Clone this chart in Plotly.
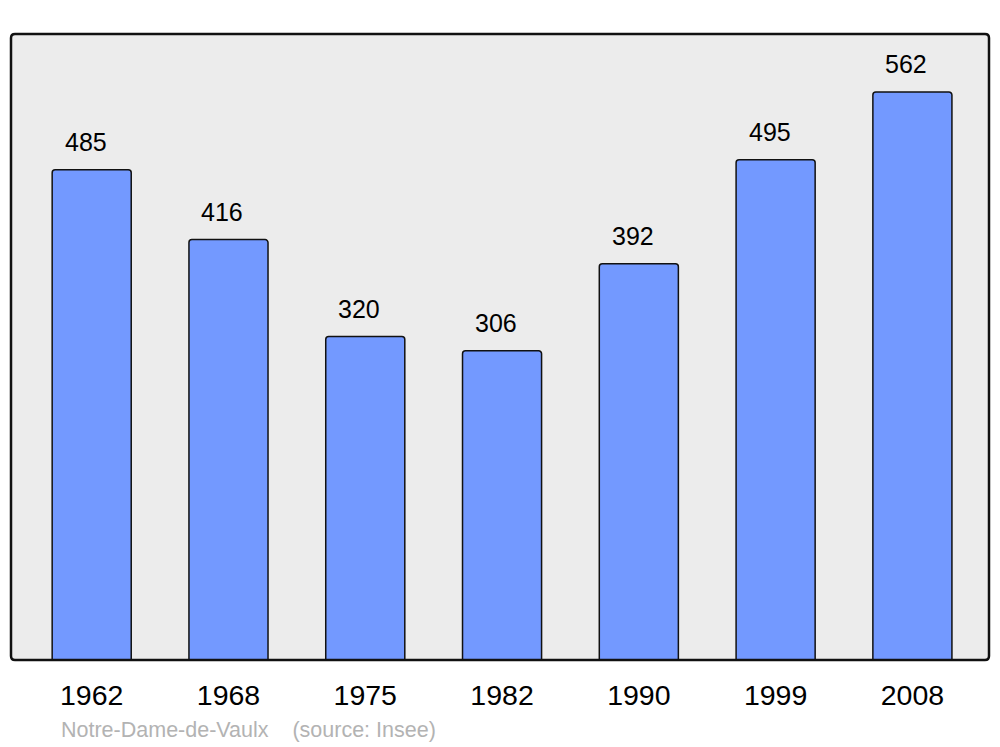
import plotly.graph_objects as go

years = ["1962", "1968", "1975", "1982", "1990", "1999", "2008"]
population = [485, 416, 320, 306, 392, 495, 562]
commune = "Notre-Dame-de-Vaulx"
source = "(source: Insee)"

FONT = "Liberation Sans, Arial, sans-serif"

fig = go.Figure()
fig.add_trace(go.Bar(
    x=list(range(len(years))), y=population, width=0.578,
    marker=dict(color="#7399ff", line=dict(color="#111111", width=1.5), cornerradius=3),
    hoverinfo="skip",
))
for i, v in enumerate(population):
    fig.add_annotation(x=i, y=v, text=str(v), showarrow=False, xshift=-6, yshift=28,
                       yanchor="middle", font=dict(family=FONT, size=25, color="#000"))

fig.add_annotation(xref="paper", yref="paper", x=0.0495, y=-0.112, xanchor="left", yanchor="middle",
                   text=commune + "&nbsp;&nbsp;&nbsp;&nbsp;" + source, showarrow=False,
                   font=dict(family=FONT, size=21.5, color="#b3b3b3"))

# rounded plot border
rx, ry = 4 / 978, 4 / 626
path = (f"M {rx},0 L {1-rx},0 Q 1,0 1,{ry} L 1,{1-ry} Q 1,1 {1-rx},1 "
        f"L {rx},1 Q 0,1 0,{1-ry} L 0,{ry} Q 0,0 {rx},0 Z")
fig.add_shape(type="path", xref="paper", yref="paper", path=path,
              line=dict(color="#111111", width=2.5), layer="above")

fig.update_layout(
    width=1000, height=747,
    margin=dict(l=11, r=11, t=34, b=87),
    paper_bgcolor="white", plot_bgcolor="#ececec",
    showlegend=False,
    xaxis=dict(range=[-0.59, 6.56], showgrid=False, zeroline=False,
               tickmode="array", tickvals=list(range(len(years))), ticktext=years,
               ticks="outside", ticklen=10, tickcolor="rgba(0,0,0,0)",
               tickfont=dict(family=FONT, size=28.5, color="#000")),
    yaxis=dict(range=[0, 619.4], showgrid=False, zeroline=False, showticklabels=False, ticks=""),
)
fig.write_html("out.html", config={"displayModeBar": False},
               post_script="document.body.style.margin='0';")
